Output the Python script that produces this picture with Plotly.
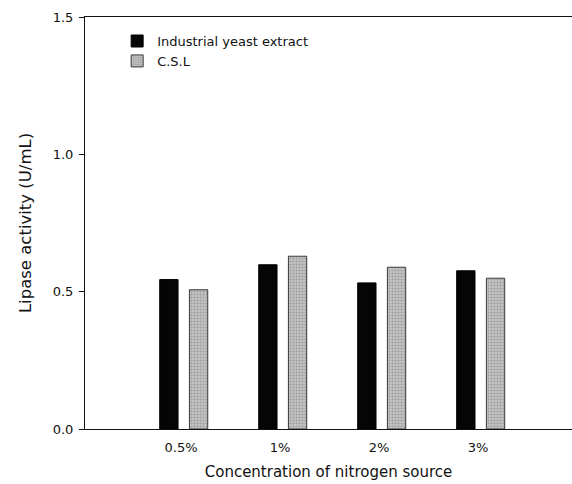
import plotly.graph_objects as go

# Nitrogen source concentrations and lipase activity (U/mL)
concentrations = ["0.5%", "1%", "2%", "3%"]
positions = [1, 2, 3, 4]
yeast_extract = [0.544, 0.598, 0.532, 0.576]
csl = [0.507, 0.629, 0.589, 0.549]
series_names = ["Industrial yeast extract", "C.S.L"]

font_family = "DejaVu Sans, Verdana, sans-serif"

fig = go.Figure()
fig.add_trace(go.Bar(
    x=positions, y=yeast_extract, name=series_names[0],
    width=0.185, offset=-0.215,
    marker=dict(color="#050505", line=dict(color="#000000", width=1)),
))
fig.add_trace(go.Bar(
    x=positions, y=csl, name=series_names[1],
    width=0.185, offset=0.085,
    marker=dict(
        color="#bdbdbd",
        line=dict(color="#3a3a3a", width=1),
        pattern=dict(shape=".", fgcolor="#7a7a7a", bgcolor="#cccccc",
                     size=3, solidity=0.5),
    ),
))

fig.update_layout(
    width=572, height=484,
    margin=dict(l=85, r=0, t=17, b=55),
    paper_bgcolor="white", plot_bgcolor="white",
    font=dict(family=font_family, size=12, color="#111111"),
    barmode="overlay",
    showlegend=True,
    legend=dict(
        x=0.066, y=0.978, xanchor="left", yanchor="top",
        bgcolor="rgba(0,0,0,0)", font=dict(size=13),
        itemwidth=30, tracegroupgap=0, traceorder="normal",
    ),
    xaxis=dict(
        range=[0.03, 4.95],
        tickmode="array", tickvals=positions, ticktext=concentrations,
        ticks="", showgrid=False, zeroline=False, ticklabelstandoff=6,
        showline=True, linecolor="#111111", linewidth=1, mirror=True,
        tickfont=dict(size=13),
        title=dict(text="Concentration of nitrogen source",
                   font=dict(size=15), standoff=12),
    ),
    yaxis=dict(
        range=[0, 1.5],
        tickmode="array", tickvals=[0, 0.5, 1.0, 1.5],
        ticktext=["0.0", "0.5", "1.0", "1.5"],
        ticks="outside", ticklen=5, tickcolor="#111111",
        ticklabelstandoff=3,
        showgrid=False, zeroline=False,
        showline=True, linecolor="#111111", linewidth=1,
        tickfont=dict(size=13),
        title=dict(text="Lipase activity (U/mL)", font=dict(size=16.5),
                   standoff=16),
    ),
)

fig.write_html("out.html")
